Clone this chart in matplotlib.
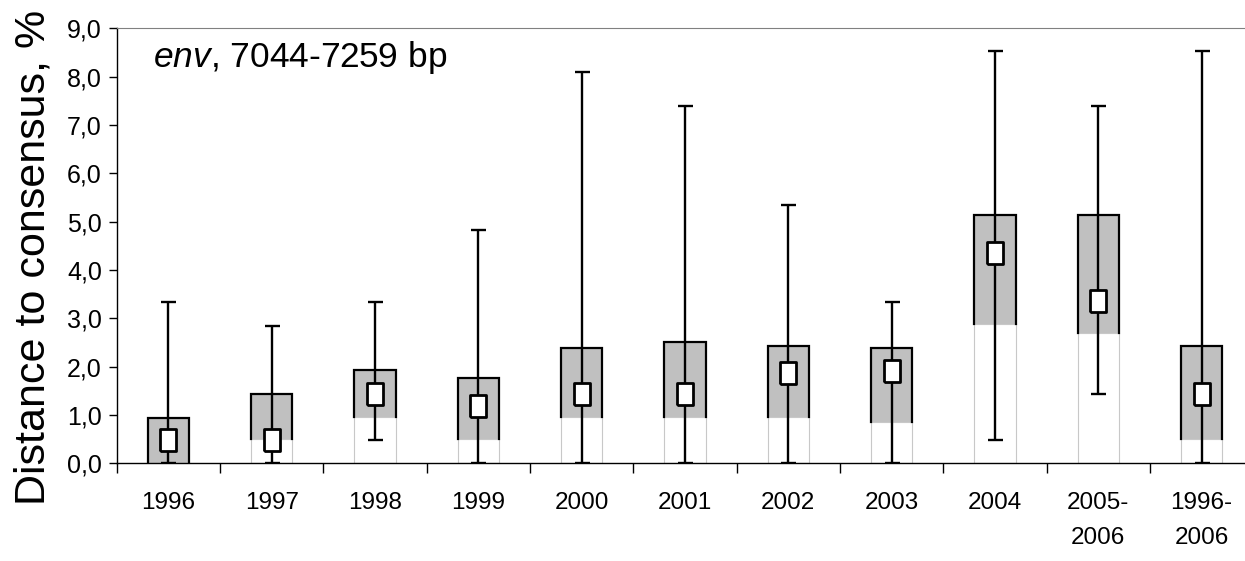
import matplotlib
matplotlib.use("Agg")
import matplotlib.pyplot as plt
import numpy as np

plt.rcParams['font.family'] = ['Liberation Sans', 'DejaVu Sans']
plt.rcParams['mathtext.fontset'] = 'custom'
plt.rcParams['mathtext.rm'] = 'Liberation Sans'
plt.rcParams['mathtext.it'] = 'Liberation Sans:italic'

# данные
categories = ['1996', '1997', '1998', '1999', '2000', '2001', '2002', '2003',
              '2004', '2005-\n2006', '1996-\n2006']
mins = [0.0, 0.0, 0.48, 0.0, 0.0, 0.0, 0.0, 0.0, 0.48, 1.43, 0.0]
q1 = [0.0, 0.50, 0.96, 0.50, 0.96, 0.96, 0.96, 0.85, 2.88, 2.69, 0.51]
medians = [0.48, 0.48, 1.43, 1.18, 1.43, 1.43, 1.87, 1.92, 4.36, 3.35, 1.43]
q3 = [0.93, 1.43, 1.93, 1.77, 2.38, 2.52, 2.43, 2.38, 5.14, 5.14, 2.43]
maxs = [3.34, 2.85, 3.34, 4.83, 8.10, 7.40, 5.34, 3.34, 8.53, 7.40, 8.53]
yticks = np.arange(0, 10)

x = np.arange(len(categories))
q1 = np.array(q1)
q3 = np.array(q3)
med = np.array(medians)
w = 0.4

fig = plt.figure(figsize=(12.45, 5.61), dpi=100)
ax = fig.add_axes([116.7 / 1245, 97.7 / 561, 1136.6 / 1245, 435 / 561])

# нижняя белая часть
ax.bar(x, q1, width=w, bottom=0, color='white', edgecolor='#c8c8c8',
       linewidth=0.8, zorder=2)
# серый ящик
ax.bar(x, q3 - q1, width=w, bottom=q1, color='#c0c0c0', edgecolor='none',
       zorder=2)
for xi, lo, hi in zip(x, q1, q3):
    ax.plot([xi - w / 2, xi - w / 2, xi + w / 2, xi + w / 2], [lo, hi, hi, lo],
            color='black', lw=1.6, zorder=3, solid_joinstyle='miter')

# усы
ax.errorbar(x, med, yerr=[med - np.array(mins), np.array(maxs) - med],
            fmt='none', ecolor='black', elinewidth=1.7, capsize=5.4,
            capthick=1.7, zorder=4)

# медиана
rect = [(-0.75, -1), (0.75, -1), (0.75, 1), (-0.75, 1), (-0.75, -1)]
ax.plot(x, med, linestyle='none', marker=rect, markersize=15.5,
        markerfacecolor='white', markeredgecolor='black', markeredgewidth=2,
        zorder=5)

ax.set_xlim(-0.5, len(categories) - 0.5)
ax.set_ylim(0, 9)

ax.set_xticks(np.arange(len(categories) + 1) - 0.5)
ax.set_xticklabels([])
ax.set_xticks(x, minor=True)
ax.set_xticklabels(categories, minor=True, fontsize=17.5, linespacing=1.75,
                   va='top')
ax.tick_params(axis='x', which='major', direction='out', length=7, width=1)
ax.tick_params(axis='x', which='minor', length=0, pad=21)

ax.set_yticks(yticks)
ax.set_yticklabels([f"{v:.1f}".replace('.', ',') for v in yticks], fontsize=18)
ax.tick_params(axis='y', direction='out', length=5.8, width=1, pad=4.8)

ax.spines['right'].set_visible(False)
ax.spines['top'].set_color('#808080')
ax.spines['left'].set_linewidth(1)
ax.spines['bottom'].set_linewidth(1)

ax.set_ylabel('Distance to consensus, %', fontsize=31)
ax.yaxis.set_label_coords(-0.0552, 0.473)

ax.text(-0.152, 8.19, r'$\it{env}$, 7044-7259 bp', fontsize=25.5,
        va='baseline', ha='left')

fig.savefig('out.png', dpi=100)
